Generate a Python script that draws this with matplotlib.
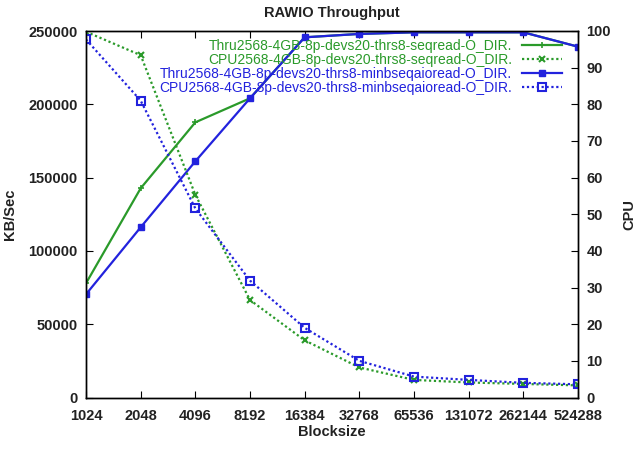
import matplotlib
matplotlib.use("Agg")
import matplotlib.pyplot as plt

plt.rcParams['font.family'] = ['Liberation Sans', 'DejaVu Sans']

blocksizes = ["1024", "2048", "4096", "8192", "16384", "32768", "65536", "131072", "262144", "524288"]

thru_seqread = [77900, 142700, 187700, 204100, 245700, 248000, 249100, 249100, 249100, 239300]
cpu_seqread = [99.8, 93.4, 55.3, 26.6, 15.6, 8.2, 4.8, 4.1, 3.7, 3.3]
thru_minb = [70400, 116100, 161100, 204100, 245700, 248000, 249100, 249100, 249100, 239300]
cpu_minb = [97.7, 81.0, 51.6, 31.9, 19.0, 10.0, 5.7, 4.8, 4.0, 3.6]

labels = ["Thru2568-4GB-8p-devs20-thrs8-seqread-O_DIR.",
          "CPU2568-4GB-8p-devs20-thrs8-seqread-O_DIR.",
          "Thru2568-4GB-8p-devs20-thrs8-minbseqaioread-O_DIR.",
          "CPU2568-4GB-8p-devs20-thrs8-minbseqaioread-O_DIR."]

green = '#2a9a2a'
blue = '#2222dd'

fig = plt.figure(figsize=(6.42, 4.5), dpi=100)
ax = fig.add_axes([86/642, 1-397.5/450, (578-86)/642, (397.5-31)/450])
ax2 = ax.twinx()

x = list(range(len(blocksizes)))
l1, = ax.plot(x, thru_seqread, color=green, lw=1.6, marker='+', ms=5, mew=1.2)
l3, = ax.plot(x, thru_minb, color=blue, lw=1.6, marker='s', ms=4.5)
l2, = ax2.plot(x, cpu_seqread, color=green, lw=1.6, ls=(0, (1, 1.2)), marker='x', ms=5, mew=1.5)
l4, = ax2.plot(x, cpu_minb, color=blue, lw=1.6, ls=(0, (1, 1.2)), marker='s', ms=6,
               mfc='none', mew=1.5)

ax.set_xlim(0, len(blocksizes) - 1)
ax.set_ylim(0, 250000)
ax2.set_ylim(0, 100)
ax.set_xticks(x)
ax.set_xticklabels(blocksizes)
ax.set_yticks(range(0, 250001, 50000))
ax2.set_yticks(range(0, 101, 10))

fs = 10.5
ax.tick_params(axis='x', direction='in', top=True, length=5, labelsize=fs, pad=8)
ax.tick_params(axis='y', direction='in', length=5, labelsize=fs, pad=6)
ax2.tick_params(axis='y', direction='in', length=5, labelsize=fs, pad=6)
for t in ax.get_xticklabels() + ax.get_yticklabels() + ax2.get_yticklabels():
    t.set_fontweight('bold')
    t.set_color('#222222')

for a in (ax, ax2):
    for s in a.spines.values():
        s.set_linewidth(1.0)

ax.set_title("RAWIO Throughput", fontsize=fs, fontweight='bold', pad=10, color='#222222')
ax.set_xlabel("Blocksize", fontsize=fs, fontweight='bold', color='#222222', labelpad=2)
ax.set_ylabel("KB/Sec", fontsize=fs, fontweight='bold', color='#222222', labelpad=8)
ax2.set_ylabel("CPU", fontsize=fs, fontweight='bold', color='#222222', labelpad=8)

leg = ax2.legend([l1, l2, l3, l4], labels, loc='upper right', markerfirst=False,
                 frameon=False, fontsize=10, handlelength=2.9, handletextpad=0.7,
                 labelspacing=0.0, borderaxespad=0.2, bbox_to_anchor=(0.985, 1.0))
for txt, c in zip(leg.get_texts(), [green, green, blue, blue]):
    txt.set_color(c)
    txt.set_ha('right')

fig.savefig("out.png", dpi=100)
